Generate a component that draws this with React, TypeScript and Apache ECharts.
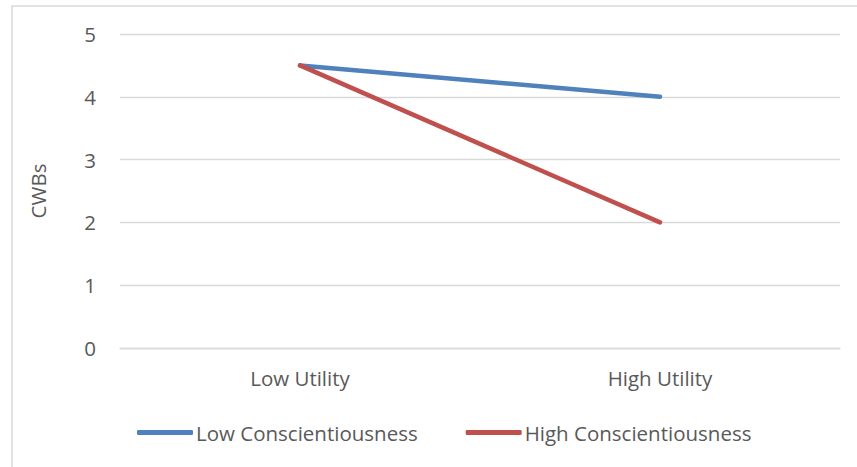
import React, { useEffect, useRef } from "react";
import * as echarts from "echarts";

const categories = ["Low Utility", "High Utility"];
const lowConsc = [4.5, 4];
const highConsc = [4.5, 2];
const seriesNames = ["Low Conscientiousness", "High Conscientiousness"];

export default function App() {
  const ref = useRef<HTMLDivElement>(null);
  useEffect(() => {
    const chart = echarts.init(ref.current!, null, { renderer: "svg" });
    const font = "'Open Sans', sans-serif";
    const fs = 20.5;
    chart.setOption({
      animation: false,
      backgroundColor: "#ffffff",
      graphic: [
        {
          type: "rect",
          shape: { x: 12, y: 6, width: 900, height: 500 },
          style: { fill: "none", stroke: "#D9D9D9", lineWidth: 1.5 },
          silent: true,
          z: -1,
        },
      ],
      grid: { left: 120, right: 17, top: 34, bottom: 119, containLabel: false },
      xAxis: {
        type: "category",
        data: categories,
        boundaryGap: true,
        axisLine: { show: true, lineStyle: { color: "#D9D9D9", width: 1.3 } },
        axisTick: { show: false },
        axisLabel: { color: "#595959", fontSize: fs, fontFamily: font, margin: 19 },
      },
      yAxis: {
        type: "value",
        min: 0,
        max: 5,
        interval: 1,
        name: "CWBs",
        nameLocation: "middle",
        nameGap: 72,
        nameRotate: 90,
        nameTextStyle: { color: "#595959", fontSize: fs, fontFamily: font },
        axisLine: { show: false },
        axisTick: { show: false },
        axisLabel: { color: "#595959", fontSize: fs, fontFamily: font, margin: 24 },
        splitLine: { lineStyle: { color: "#D9D9D9", width: 1.3 } },
      },
      legend: {
        bottom: 19,
        left: 132,
        itemWidth: 56,
        itemHeight: 5,
        itemGap: 48,
        icon: "roundRect",
        textStyle: { color: "#595959", fontSize: fs, fontFamily: font, padding: [0, 0, 0, -2] },
        data: seriesNames,
      },
      series: [
        {
          name: seriesNames[0],
          type: "line",
          data: lowConsc,
          showSymbol: false,
          symbol: "none",
          lineStyle: { color: "#4F81BD", width: 4.5, cap: "round" },
          itemStyle: { color: "#4F81BD" },
        },
        {
          name: seriesNames[1],
          type: "line",
          data: highConsc,
          showSymbol: false,
          symbol: "none",
          lineStyle: { color: "#C0504D", width: 4.5, cap: "round" },
          itemStyle: { color: "#C0504D" },
        },
      ],
    });
    return () => chart.dispose();
  }, []);
  return (
    <div
      ref={ref}
      style={{ position: "absolute", left: 0, top: 0, width: 857, height: 467 }}
    />
  );
}
